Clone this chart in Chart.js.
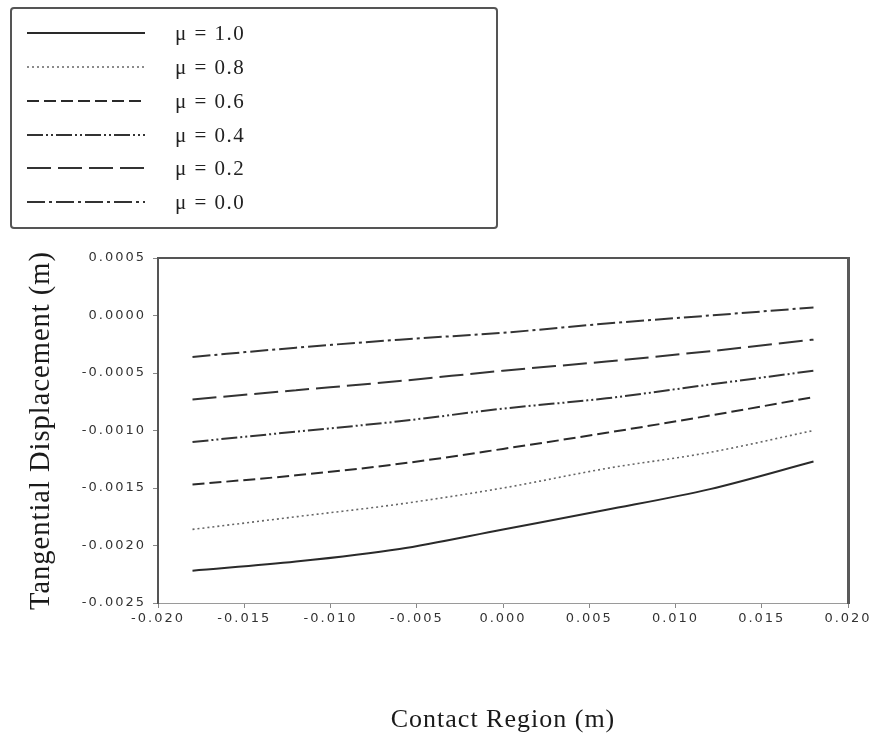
<!DOCTYPE html>
<html>
<head>
<meta charset="utf-8">
<script src="https://cdn.jsdelivr.net/npm/chart.js@4.4.1/dist/chart.umd.min.js"></script>
<style>
  html, body { margin: 0; padding: 0; background: #ffffff; }
  #wrap { width: 878px; height: 740px; }
</style>
</head>
<body>
<div id="wrap"><canvas id="chart" width="878" height="740"></canvas></div>
<script>
// Contact region positions (m)
const contactRegion = [-0.018, -0.012, -0.006, 0.000, 0.006, 0.012, 0.018];

// Tangential displacement (m) for each friction coefficient
const mu10 = [-0.00222, -0.00214, -0.00203, -0.00186, -0.00169, -0.00151, -0.00127];
const mu08 = [-0.00186, -0.00175, -0.00164, -0.00150, -0.00133, -0.00119, -0.00100];
const mu06 = [-0.00147, -0.00139, -0.00129, -0.00116, -0.00102, -0.00087, -0.00071];
const mu04 = [-0.00110, -0.00101, -0.00092, -0.00081, -0.00072, -0.00060, -0.00048];
const mu02 = [-0.00073, -0.00065, -0.00057, -0.00048, -0.00040, -0.00031, -0.00021];
const mu00 = [-0.00036, -0.00028, -0.00021, -0.00015, -0.00007, 0.00000, 0.00007];

const seriesLabels = ['\u03bc = 1.0', '\u03bc = 0.8', '\u03bc = 0.6', '\u03bc = 0.4', '\u03bc = 0.2', '\u03bc = 0.0'];

// Axis tick values
const xTickValues = [-0.020, -0.015, -0.010, -0.005, 0.000, 0.005, 0.010, 0.015, 0.020];
const yTickValues = [-0.0025, -0.0020, -0.0015, -0.0010, -0.0005, 0.0000, 0.0005];

const seriesValues = [mu10, mu08, mu06, mu04, mu02, mu00];
const lineStyles = [
  { color: '#2a2a2a', width: 2,   dash: [] },
  { color: '#666666', width: 1.6, dash: [2, 3] },
  { color: '#2a2a2a', width: 2,   dash: [12, 5] },
  { color: '#333333', width: 2,   dash: [16, 3, 2, 3, 2, 3] },
  { color: '#333333', width: 2,   dash: [24, 7] },
  { color: '#333333', width: 2,   dash: [18, 4, 3, 4] }
];

const datasets = seriesValues.map((vals, i) => ({
  label: seriesLabels[i],
  data: contactRegion.map((x, j) => ({ x: x, y: vals[j] })),
  borderColor: lineStyles[i].color,
  borderWidth: lineStyles[i].width,
  borderDash: lineStyles[i].dash,
  pointRadius: 0,
  fill: false,
  cubicInterpolationMode: 'monotone'
}));

// Boxed key in the upper-left; text spacing for titles and tick labels
const boxedKey = {
  id: 'boxedKey',
  beforeDraw(chart) {
    chart.ctx.letterSpacing = '1px';   // axis titles
  },
  afterDatasetsDraw(chart) {
    chart.ctx.letterSpacing = '2px';   // tick labels (drawn on a later layer)
  },
  afterDraw(chart) {
    const ctx = chart.ctx;
    ctx.save();
    ctx.letterSpacing = '0px';
    ctx.strokeStyle = '#555555';
    ctx.lineWidth = 2;
    ctx.beginPath();
    if (ctx.roundRect) ctx.roundRect(11, 8, 486, 220, 3); else ctx.rect(11, 8, 486, 220);
    ctx.stroke();
    const rowY = [33, 67, 101, 135, 168, 202];
    chart.data.datasets.forEach((ds, i) => {
      const y = rowY[i];
      ctx.save();
      ctx.strokeStyle = ds.borderColor;
      ctx.lineWidth = ds.borderWidth;
      ctx.setLineDash(ds.borderDash || []);
      ctx.beginPath();
      ctx.moveTo(27, y);
      ctx.lineTo(145, y);
      ctx.stroke();
      ctx.restore();
      ctx.save();
      ctx.letterSpacing = '1.5px';
      ctx.fillStyle = '#222222';
      ctx.font = '21px "Liberation Serif", "Times New Roman", serif';
      ctx.textAlign = 'left';
      ctx.textBaseline = 'middle';
      ctx.fillText(ds.label, 175, y + 1);
      ctx.restore();
    });
    ctx.restore();
    ctx.letterSpacing = '0px';
  }
};

const tickFont = { family: '"DejaVu Sans", Arial, sans-serif', size: 13 };
const titleFontFamily = '"Liberation Serif", "Times New Roman", serif';

new Chart(document.getElementById('chart'), {
  type: 'line',
  data: { datasets: datasets },
  plugins: [boxedKey],
  options: {
    responsive: false,
    animation: false,
    layout: { padding: { top: 258, right: 30, left: 0, bottom: 0 } },
    plugins: {
      legend: { display: false },
      tooltip: { enabled: false },
      title: { display: false }
    },
    scales: {
      x: {
        type: 'linear',
        position: 'bottom',
        min: -0.02,
        max: 0.02,
        afterBuildTicks: (s) => { s.ticks = xTickValues.map(v => ({ value: v })); },
        afterFit: (s) => { s.height = 137; },
        ticks: {
          z: 1,
          color: '#333333',
          font: tickFont,
          padding: 3,
          maxRotation: 0,
          autoSkip: false,
          callback: (v) => (Math.abs(v) < 1e-12 ? 0 : v).toFixed(3)
        },
        grid: { drawOnChartArea: false, drawTicks: true, tickLength: 5, color: '#888888' },
        border: { display: true, color: '#9a9a9a', width: 1 },
        title: {
          display: true,
          text: 'Contact Region (m)',
          color: '#1a1a1a',
          font: { family: titleFontFamily, size: 26 },
          padding: { top: 0, bottom: 4 }
        }
      },
      y: {
        type: 'linear',
        position: 'left',
        min: -0.0025,
        max: 0.0005,
        afterBuildTicks: (s) => { s.ticks = yTickValues.map(v => ({ value: v })); },
        afterFit: (s) => { s.width = 158; },
        ticks: {
          z: 1,
          color: '#333333',
          font: tickFont,
          padding: 7,
          autoSkip: false,
          callback: (v) => (Math.abs(v) < 1e-12 ? 0 : v).toFixed(4)
        },
        grid: { drawOnChartArea: false, drawTicks: true, tickLength: 5, color: '#888888' },
        border: { display: true, color: '#555555', width: 2 },
        title: {
          display: true,
          text: 'Tangential Displacement (m)',
          color: '#1a1a1a',
          font: { family: titleFontFamily, size: 28.5 },
          padding: { top: 24, bottom: 0 }
        }
      },
      xTop: {
        type: 'linear',
        position: 'top',
        min: -0.02,
        max: 0.02,
        afterFit: (s) => { s.height = 0; },
        ticks: { display: false },
        grid: { display: false, drawTicks: false },
        border: { display: true, color: '#555555', width: 2 }
      },
      yRight: {
        type: 'linear',
        position: 'right',
        min: -0.0025,
        max: 0.0005,
        afterFit: (s) => { s.width = 0; },
        ticks: { display: false },
        grid: { display: false, drawTicks: false },
        border: { display: true, color: '#5a5a5a', width: 3 }
      }
    }
  }
});
</script>
</body>
</html>
